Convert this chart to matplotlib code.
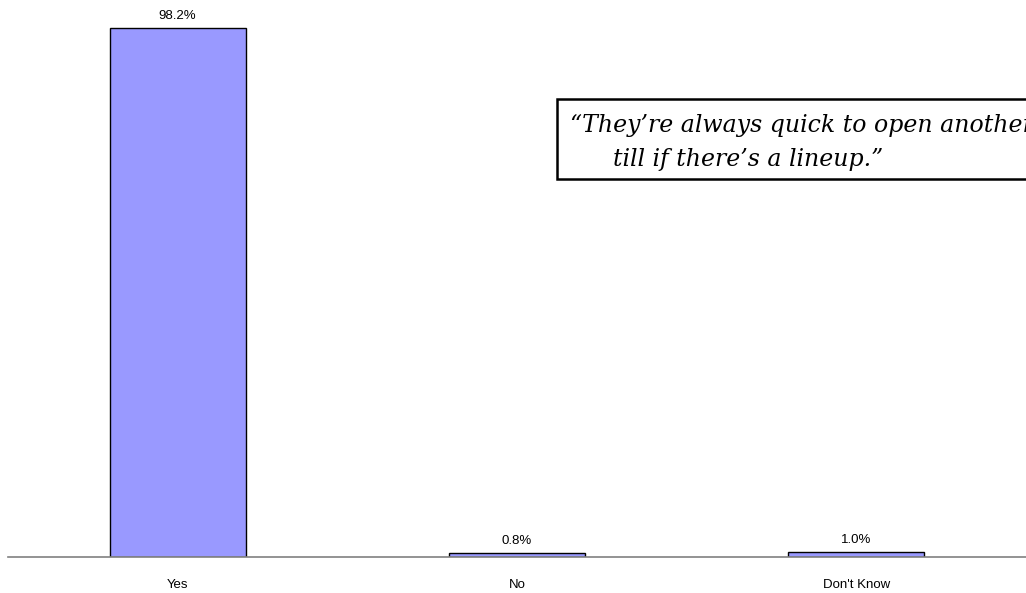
import matplotlib
matplotlib.use("Agg")
import matplotlib.pyplot as plt
from matplotlib.patches import Rectangle

categories = ["Yes", "No", "Don't Know"]
values = [98.2, 0.8, 1.0]
labels = ["98.2%", "0.8%", "1.0%"]
quote_1 = "\u201cThey\u2019re always quick to open another"
quote_2 = "till if there\u2019s a lineup.\u201d"

W, H = 1026, 593
fig = plt.figure(figsize=(W / 100, H / 100), dpi=100)
# axes: baseline at y=557px, spans x 8..1026
ax = fig.add_axes([8 / W, (H - 557) / H, (W - 8) / W, 557 / H])

x = range(len(categories))
ax.bar(x, values, width=0.4, color="#9999ff", edgecolor="black", linewidth=1.0)
for xi, v, lab in zip(x, values, labels):
    ax.annotate(lab, (xi, v), xytext=(0, 4), textcoords="offset points",
                ha="center", va="bottom", fontsize=9.5, family="Liberation Sans")

ax.set_xlim(-0.5, 2.5)
ax.set_ylim(0, 98.2 * 557 / 529)
for s in ["top", "right", "left"]:
    ax.spines[s].set_visible(False)
ax.spines["bottom"].set_color("#808080")
ax.spines["bottom"].set_linewidth(1.2)
ax.set_yticks([])
ax.set_xticks(list(x), categories, family="Liberation Sans", fontsize=9.5)
ax.tick_params(axis="x", length=0, pad=16)

# quote box, clipped by the right edge of the figure
fig.patches.append(Rectangle((557 / W, 1 - 179 / H), (W + 20 - 557) / W, 80 / H,
                             transform=fig.transFigure, facecolor="white",
                             edgecolor="black", linewidth=1.8, zorder=3))
qstyle = dict(fontsize=17, style="italic", family="DejaVu Serif", zorder=4)
fig.text(570 / W, 1 - 125 / H, quote_1, ha="left", va="center", **qstyle)
fig.text(748 / W, 1 - 160 / H, quote_2, ha="center", va="center", **qstyle)

fig.savefig("out.png", dpi=100)
